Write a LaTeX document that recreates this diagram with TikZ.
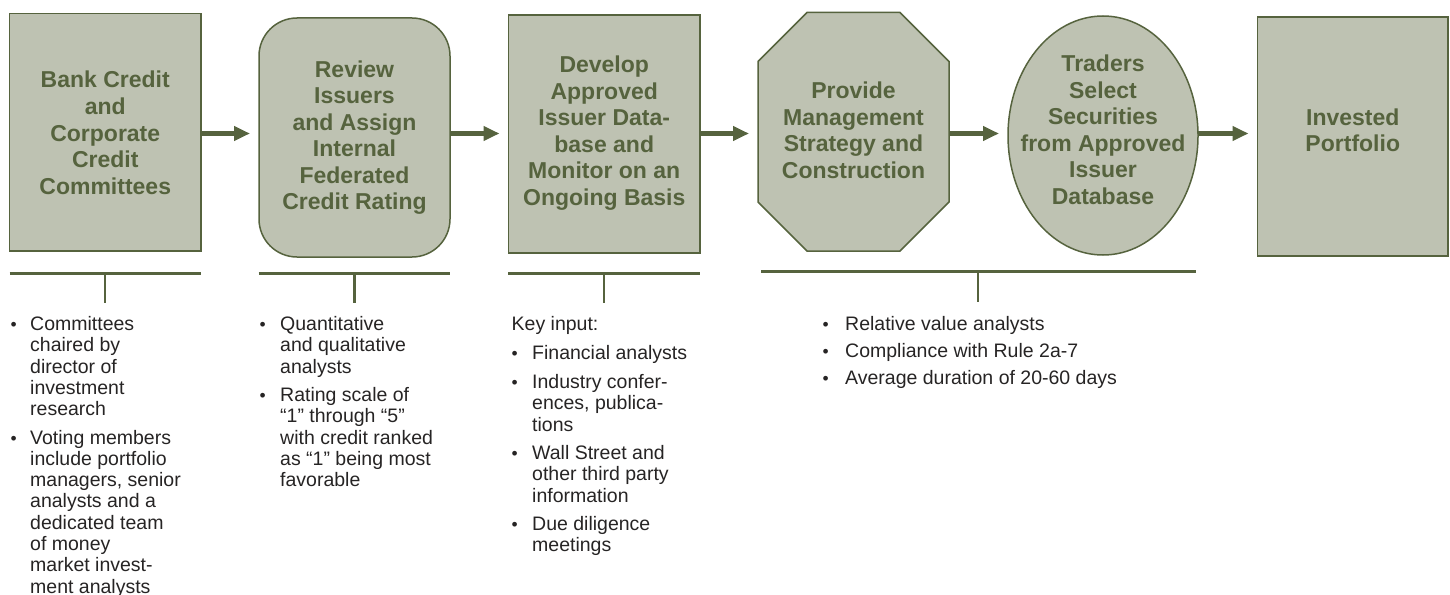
\documentclass[tikz,border=0pt]{standalone}
\usepackage{fontspec}
\setmainfont{Liberation Sans}
\usetikzlibrary{arrows.meta,shapes.geometric}

\definecolor{stepgreen}{RGB}{86,99,62}
\definecolor{stepfill}{RGB}{190,194,178}
\definecolor{bodytext}{RGB}{38,36,36}

\pgfdeclarelayer{bg}
\pgfsetlayers{bg,main}

% multi-line centred title, baseline on the first line
\newcommand\stacktitle[1]{\begin{tabular}[t]{@{}c@{}}#1\end{tabular}}
% bullet mark, optionally pushed right
\newcommand\bu[1][0pt]{\hspace*{#1}{\fontsize{17.5}{17.5}\selectfont •}}

\begin{document}
\begin{tikzpicture}[x=1pt,y=-1pt,
  shapebox/.style={draw=stepgreen, fill=stepfill, line width=1.5pt, inner sep=0pt, outer sep=0pt},
  title/.style={font=\fontsize{23}{26.5}\selectfont\bfseries, text=stepgreen, anchor=base, inner sep=0pt},
  flow/.style={draw=stepgreen, line width=5pt, -{Triangle[length=16pt,width=14pt]}, shorten >=9pt},
  bracket/.style={draw=stepgreen, line width=2.5pt},
  notes/.style={font=\fontsize{19.5}{21.3}\selectfont, text=bodytext, anchor=base west, inner sep=0pt}]

\useasboundingbox (0,0) rectangle (1450,594);
\clip (0,0) rectangle (1450,594);

% process steps
\node[shapebox, minimum width=191.5pt, minimum height=237.5pt] (b1) at (105.25,132.25) {};
\node[shapebox, rounded corners=38pt, minimum width=191pt, minimum height=239pt] (b2) at (354.5,137.5) {};
\node[shapebox, minimum width=191.5pt, minimum height=238pt] (b3) at (604.25,134) {};
\node[inner sep=0pt, outer sep=0pt, minimum width=191pt, minimum height=238.5pt] (oct) at (853.5,131.75) {};
\node[shapebox, ellipse, minimum width=190pt, minimum height=239pt] (ell) at (1103,135.5) {};
\node[shapebox, minimum width=190.5pt, minimum height=239pt] (b6) at (1352.75,136.5) {};

\begin{pgfonlayer}{bg}
  \draw[shapebox] ([xshift=49pt]oct.north west) -- ([xshift=-49pt]oct.north east)
    -- ([yshift=-49pt]oct.north east) -- ([yshift=49pt]oct.south east)
    -- ([xshift=-49pt]oct.south east) -- ([xshift=49pt]oct.south west)
    -- ([yshift=49pt]oct.south west) -- ([yshift=-49pt]oct.north west) -- cycle;
\end{pgfonlayer}

% step titles
\node[title] (t1) at (105.25,88) {\stacktitle{Bank Credit\\and\\Corporate\\Credit\\Committees}};
\node[title] (t2) at (354.5,77.5) {\stacktitle{Review\\Issuers\\and Assign\\Internal\\Federated\\Credit Rating}};
\node[title] (t3) at (604.25,72.5) {\stacktitle{Develop\\Approved\\Issuer Data-\\base and\\Monitor on an\\Ongoing Basis}};
\node[title] (t4) at (853.5,98.5) {\stacktitle{Provide\\Management\\Strategy and\\Construction}};
\node[title] (t5) at (1103,71.5) {\stacktitle{Traders\\Select\\Securities\\from Approved\\Issuer\\Database}};
\node[title] (t6) at (1352.75,125) {\stacktitle{Invested\\Portfolio}};

% flow arrows
\coordinate (axis) at (0,133.5);
\draw[flow] (b1.east |- axis) -- (b2.west |- axis);
\draw[flow] (b2.east |- axis) -- (b3.west |- axis);
\draw[flow] (b3.east |- axis) -- (oct.west |- axis);
\draw[flow] (oct.east |- axis) -- (ell.west |- axis);
\draw[flow] (ell.east |- axis) -- (b6.west |- axis);

% brackets under the steps
\draw[bracket] (9.5,273.5) -- (200.5,273.5);
\draw[bracket] (105,273.5) -- (105,302.5);
\draw[bracket] (258.5,273.5) -- (449.5,273.5);
\draw[bracket] (354.5,273.5) -- (354.5,302.5);
\draw[bracket] (508,273.5) -- (699.5,273.5);
\draw[bracket] (604,273.5) -- (604,302.5);
\draw[bracket] (761,271.5) -- (1196,271.5);
\draw[bracket] (978,271.5) -- (978,301.5);

% notes
\node[notes] (n1) at (10.5,330.5) {\begin{tabular}[t]{@{}p{19.5pt}@{}l@{}}
\bu & Committees\\
 & chaired by\\
 & director of\\
 & investment\\
 & research\\[7pt]
\bu & Voting members\\
 & include portfolio\\
 & managers, senior\\
 & analysts and a\\
 & dedicated team\\
 & of money\\
 & market invest-\\
 & ment analysts
\end{tabular}};

\node[notes] (n2) at (259.5,330.5) {\begin{tabular}[t]{@{}p{20.5pt}@{}l@{}}
\bu & Quantitative\\
 & and qualitative\\
 & analysts\\[7pt]
\bu & Rating scale of\\
 & “1” through “5”\\
 & with credit ranked\\
 & as “1” being most\\
 & favorable
\end{tabular}};

\node[notes] (n3) at (511.5,330) {\begin{tabular}[t]{@{}p{20.5pt}@{}l@{}}
\multicolumn{2}{@{}l@{}}{Key input:}\\[8pt]
\bu & Financial analysts\\[8pt]
\bu & Industry confer-\\
 & ences, publica-\\
 & tions\\[7pt]
\bu & Wall Street and\\
 & other third party\\
 & information\\[7pt]
\bu & Due diligence\\
 & meetings
\end{tabular}};

\node[notes] (n4) at (822.5,330) {\begin{tabular}[t]{@{}p{22.5pt}@{}l@{}}
\bu & Relative value analysts\\[6pt]
\bu & Compliance with Rule 2a-7\\[6pt]
\bu & Average duration of 20-60 days
\end{tabular}};

\end{tikzpicture}
\end{document}
